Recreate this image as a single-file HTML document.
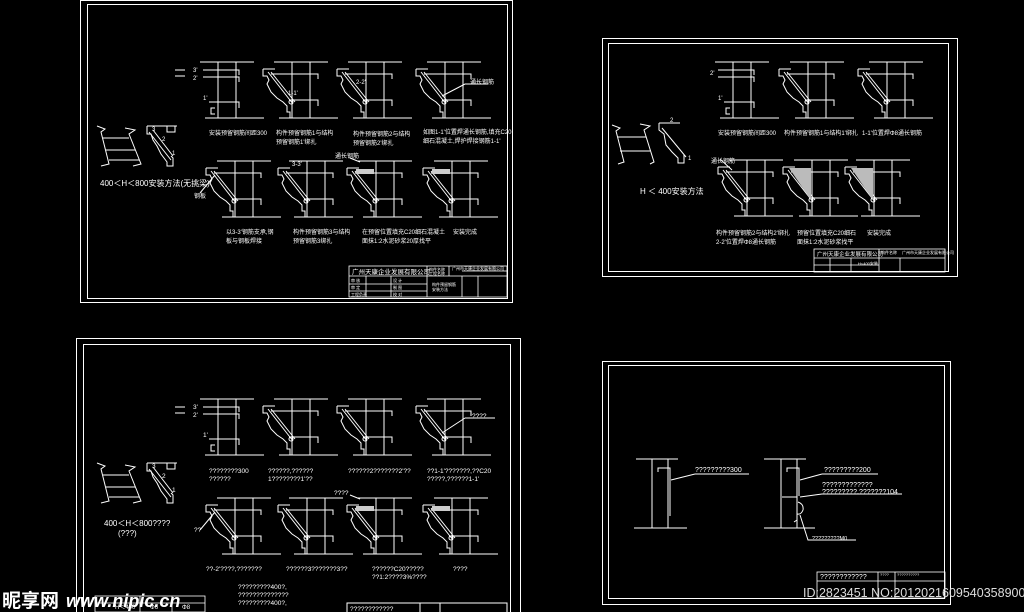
<!DOCTYPE html>
<html><head><meta charset="utf-8">
<style>
html,body{margin:0;padding:0;background:#000;}
svg{display:block;}
text{fill:#fff;font-family:"Liberation Sans","Noto Sans CJK SC",sans-serif;}
</style></head>
<body>
<svg width="1024" height="612" viewBox="0 0 1024 612" xmlns="http://www.w3.org/2000/svg">
<defs>
  <g id="frame0" stroke="#fff" stroke-width="1" fill="none">
    <line x1="11" y1="0" x2="65" y2="0"/>
    <line x1="29" y1="0" x2="29" y2="56"/>
    <line x1="47" y1="0" x2="47" y2="56"/>
    <line x1="16" y1="56" x2="75" y2="56"/>
  </g>
  <g id="mold" stroke="#fff" stroke-width="1" fill="none">
    <use href="#frame0"/>
    <polyline points="0,7 0,14 4,14 6,18 4,22 8,30 14,36 20,40 24,44 24,50 27,50 27,56 29,56"/>
    <polyline points="0,7 12,7"/>
    <line x1="5" y1="10" x2="30" y2="42"/>
    <line x1="8" y1="10" x2="32" y2="40"/>
    <polyline points="8,12 55,12 55,17"/>
    <polyline points="26,38 55,38 55,44"/>
    <circle cx="28" cy="40" r="2"/>
  </g>
  <g id="moldfill" stroke="#fff" stroke-width="1" fill="none">
    <use href="#mold"/>
    <rect x="9" y="8" width="18" height="5" fill="#ccc" stroke="none"/>
  </g>
  <g id="moldfill2" stroke="#fff" stroke-width="1" fill="none">
    <use href="#mold"/>
    <polygon points="6,8 28,8 28,40" fill="#bbb" stroke="none"/>
  </g>
  <g id="det1" stroke="#fff" stroke-width="1" fill="none">
    <use href="#frame0"/>
    <polyline points="14,8 50,8 50,13"/>
    <polyline points="14,15 50,15 50,20"/>
    <polyline points="20,40 50,40 50,46"/>
    <polyline points="26,46 22,46 22,52 26,52"/>
  </g>
  <g id="smallfig" stroke="#fff" stroke-width="1" fill="none">
    <polyline points="0,0 8,3 4,6 12,38 4,40"/>
    <polyline points="28,2 38,4 32,8 44,38 36,40"/>
    <line x1="6" y1="12" x2="32" y2="12"/>
    <line x1="9" y1="24" x2="38" y2="24"/>
    <line x1="12" y1="34" x2="42" y2="34"/>
    <polyline points="50,0 50,8 54,8 56,14 60,20 64,28 70,36 70,40 76,40 76,32 74,30"/>
    <line x1="50" y1="0" x2="80" y2="0"/>
    <line x1="52" y1="6" x2="74" y2="34"/>
    <line x1="56" y1="4" x2="76" y2="30"/>
    <rect x="70" y="0" width="8" height="6"/>
  </g>
</defs>

<!-- ============ SHEET 1 ============ -->
<g stroke="#fff" fill="none" stroke-width="1">
  <rect x="80.5" y="0.5" width="432" height="302"/>
  <rect x="87.5" y="4.5" width="420" height="294"/>
</g>
<use href="#det1" x="189" y="62"/>
<use href="#mold" x="263" y="62"/>
<use href="#mold" x="337" y="62"/>
<use href="#mold" x="416" y="62"/>
<use href="#mold" x="206" y="161"/>
<use href="#mold" x="278" y="161"/>
<use href="#moldfill" x="347" y="161"/>
<use href="#moldfill" x="423" y="161"/>
<use href="#smallfig" x="97" y="126"/>
<g stroke="#fff" fill="none">
  <line x1="175" y1="70" x2="185" y2="70"/><line x1="175" y1="76" x2="185" y2="76"/>
  <line x1="442" y1="96" x2="465" y2="84"/><line x1="465" y1="84" x2="488" y2="84"/>
  <line x1="200" y1="193" x2="215" y2="175"/>
  <line x1="360" y1="162" x2="350" y2="158"/>
</g>
<g font-size="6">
  <text x="193" y="72">3'</text><text x="193" y="80">2'</text><text x="203" y="100">1'</text>
  <text x="288" y="95">1-1'</text><text x="356" y="84">2-2'</text>
  <text x="470" y="84">通长钢筋</text>
  <text x="209" y="135">安装预留钢筋间距300</text>
  <text x="276" y="135">构件预留钢筋1与结构</text><text x="276" y="144">预留钢筋1'绑扎</text>
  <text x="353" y="136">构件预留钢筋2与结构</text><text x="353" y="145">预留钢筋2'绑扎</text>
  <text x="423" y="134">如图1-1'位置焊通长钢筋,填充C20</text><text x="423" y="143">细石混凝土,焊护焊接钢筋1-1'</text>
  <text x="292" y="166">3-3'</text><text x="335" y="158">通长钢筋</text>
  <text x="194" y="198">钢板</text>
  <text x="226" y="234">以3-3'钢筋支承,钢</text><text x="226" y="243">板与钢板焊接</text>
  <text x="293" y="234">构件预留钢筋3与结构</text><text x="293" y="243">预留钢筋3绑扎</text>
  <text x="362" y="234">在预留位置填充C20细石混凝土</text><text x="362" y="243">面抹1:2水泥砂浆20厚找平</text>
  <text x="453" y="234">安装完成</text>
  <text x="152" y="131">3</text><text x="162" y="141">2</text><text x="172" y="155">1</text>
</g>
<text x="100" y="186" font-size="8">400＜H＜800安装方法(无挑梁)</text>
<g stroke="#fff" fill="none" stroke-width="0.8">
  <rect x="349" y="266" width="158" height="31"/>
  <line x1="349" y1="276" x2="507" y2="276"/><line x1="349" y1="284" x2="427" y2="284"/><line x1="349" y1="291" x2="427" y2="291"/>
  <line x1="427" y1="266" x2="427" y2="297"/><line x1="449" y1="266" x2="449" y2="276"/>
  <line x1="462" y1="276" x2="462" y2="297"/><line x1="478" y1="276" x2="478" y2="297"/>
  <line x1="366" y1="276" x2="366" y2="297"/><line x1="391" y1="276" x2="391" y2="297"/>
  <line x1="462" y1="271" x2="507" y2="271"/>
</g>
<g font-size="6.5"><text x="352" y="274">广州天康企业发展有限公司</text></g>
<g font-size="4"><text x="429" y="271">构件名称</text><text x="429" y="275">工程名称</text><text x="452" y="270">广州市天康企业发展有限公司</text><text x="432" y="286">构件预留钢筋</text><text x="432" y="291">安装方法</text><text x="351" y="282">审 核</text><text x="351" y="289">审 定</text><text x="351" y="296">工程负责</text><text x="393" y="282">设 计</text><text x="393" y="289">制 图</text><text x="393" y="296">校 对</text></g>

<!-- ============ SHEET 2 ============ -->
<g stroke="#fff" fill="none" stroke-width="1">
  <rect x="602.5" y="38.5" width="355" height="238"/>
  <rect x="608.5" y="43.5" width="340" height="228"/>
</g>
<use href="#det1" x="704" y="62"/>
<use href="#mold" x="779" y="62"/>
<use href="#mold" x="858" y="62"/>
<use href="#mold" x="718" y="160"/>
<use href="#moldfill2" x="783" y="160"/>
<use href="#moldfill2" x="845" y="160"/>
<g stroke="#fff" fill="none" stroke-width="1">
  <polyline points="612,125 620,128 616,131 624,162 618,164"/>
  <polyline points="640,124 650,126 644,130 654,162 650,164"/>
  <line x1="618" y1="137" x2="646" y2="137"/><line x1="620" y1="151" x2="650" y2="151"/>
  <polyline points="659,123 659,130 664,134 666,145 672,152 678,158 678,163 684,163 684,155"/>
  <line x1="659" y1="123" x2="680" y2="123"/><line x1="662" y1="128" x2="686" y2="157"/>
  <line x1="720" y1="159" x2="732" y2="170"/>
</g>
<g font-size="6">
  <text x="710" y="75">2'</text><text x="718" y="100">1'</text>
  <text x="670" y="122">2</text><text x="688" y="160">1</text>
  <text x="711" y="163">通长钢筋</text>
  <text x="718" y="135">安装预留钢筋间距300</text>
  <text x="784" y="135">构件预留钢筋1与结构1'绑扎</text>
  <text x="862" y="135">1-1'位置焊Φ8通长钢筋</text>
  <text x="716" y="235">构件预留钢筋2与结构2'绑扎</text>
  <text x="716" y="244">2-2'位置焊Φ8通长钢筋</text>
  <text x="797" y="235">预留位置填充C20细石</text>
  <text x="797" y="244">面抹1:2水泥砂浆找平</text>
  <text x="867" y="235">安装完成</text>
</g>
<text x="640" y="194" font-size="8">H ＜ 400安装方法</text>
<g stroke="#fff" fill="none" stroke-width="0.8">
  <rect x="814" y="249" width="131" height="23"/>
  <line x1="814" y1="258" x2="945" y2="258"/><line x1="879" y1="249" x2="879" y2="272"/>
  <line x1="830" y1="258" x2="830" y2="272"/><line x1="851" y1="258" x2="851" y2="272"/>
  <line x1="900" y1="258" x2="900" y2="272"/><line x1="814" y1="265" x2="879" y2="265"/>
</g>
<g font-size="5.5"><text x="817" y="256">广州天康企业发展有限公司</text></g>
<g font-size="4"><text x="881" y="254">构件名称</text><text x="902" y="254">广州市天康企业发展有限公司</text><text x="858" y="265">H&lt;400安装</text></g>

<!-- ============ SHEET 3 ============ -->
<g stroke="#fff" fill="none" stroke-width="1">
  <rect x="76.5" y="338.5" width="444" height="280"/>
  <rect x="83.5" y="344.5" width="427" height="270"/>
</g>
<use href="#det1" x="189" y="399"/>
<use href="#mold" x="263" y="399"/>
<use href="#mold" x="337" y="399"/>
<use href="#mold" x="416" y="399"/>
<use href="#mold" x="206" y="498"/>
<use href="#mold" x="278" y="498"/>
<use href="#moldfill" x="347" y="498"/>
<use href="#moldfill" x="423" y="498"/>
<use href="#smallfig" x="97" y="463"/>
<g stroke="#fff" fill="none">
  <line x1="175" y1="407" x2="185" y2="407"/><line x1="175" y1="413" x2="185" y2="413"/>
  <line x1="442" y1="433" x2="465" y2="418"/><line x1="465" y1="418" x2="495" y2="418"/>
  <line x1="200" y1="530" x2="215" y2="512"/>
  <line x1="360" y1="499" x2="350" y2="495"/>
  <rect x="347" y="603" width="160" height="12"/>
  <line x1="420" y1="603" x2="420" y2="612"/><line x1="440" y1="603" x2="440" y2="612"/>
</g>
<g font-size="6.5">
  <text x="193" y="409">3'</text><text x="193" y="417">2'</text><text x="203" y="437">1'</text>
  <text x="472" y="418">????</text>
  <text x="209" y="473">????????300</text><text x="209" y="481">??????</text>
  <text x="268" y="473">??????,??????</text><text x="268" y="481">1????????1'??</text>
  <text x="348" y="473">??????2???????2'??</text>
  <text x="427" y="473">??1-1'???????,??C20</text><text x="427" y="481">?????,??????1-1'</text>
  <text x="334" y="495">????</text><text x="194" y="532">??</text>
  <text x="206" y="571">??-2'????,???????</text>
  <text x="286" y="571">??????3???????3??</text>
  <text x="372" y="571">??????C20?????</text><text x="372" y="579">??1:2????3%????</text>
  <text x="453" y="571">????</text>
  <text x="238" y="589">?????????400?,</text><text x="238" y="597">??????????????</text>
  <text x="238" y="605">?????????400?,</text>
  <text x="350" y="611">????????????</text>
  <text x="152" y="468">3</text><text x="162" y="478">2</text><text x="172" y="492">1</text>
</g>
<text x="104" y="526" font-size="8">400＜H＜800????</text>
<text x="118" y="536" font-size="8">(???)</text>
<g stroke="#fff" fill="none" stroke-width="0.8">
  <rect x="95" y="596" width="110" height="16"/><line x1="95" y1="603" x2="205" y2="603"/>
  <line x1="140" y1="596" x2="140" y2="612"/><line x1="172" y1="596" x2="172" y2="612"/>
</g>
<g font-size="6"><text x="115" y="609">H＜400</text><text x="150" y="609">Φ6</text><text x="182" y="609">Φ8</text></g>

<!-- ============ SHEET 4 ============ -->
<g stroke="#fff" fill="none" stroke-width="1">
  <rect x="602.5" y="361.5" width="348" height="243"/>
  <rect x="608.5" y="365.5" width="336" height="233"/>
  <line x1="636" y1="459" x2="678" y2="459"/><line x1="634" y1="528" x2="687" y2="528"/>
  <line x1="652" y1="459" x2="652" y2="528"/><line x1="668" y1="459" x2="668" y2="528"/>
  <polyline points="658,472 658,468 670,468 670,516"/>
  <line x1="671" y1="480" x2="695" y2="474"/><line x1="695" y1="474" x2="749" y2="474"/>
  <line x1="764" y1="459" x2="806" y2="459"/><line x1="764" y1="528" x2="815" y2="528"/>
  <line x1="781" y1="459" x2="781" y2="528"/><line x1="797" y1="459" x2="797" y2="528"/>
  <polyline points="787,472 787,468 799,468 799,496"/>
  <line x1="782" y1="497" x2="797" y2="497"/>
  <line x1="800" y1="480" x2="822" y2="474"/><line x1="822" y1="474" x2="878" y2="474"/>
  <line x1="800" y1="497" x2="822" y2="494"/><line x1="822" y1="494" x2="902" y2="494"/>
  <path d="M798,502 q6,2 5,8 q-2,5 -6,4 l0,6 l-3,2"/>
  <polyline points="800,515 808,540 856,540"/>
  <rect x="817" y="572" width="128" height="26" stroke-width="0.8"/>
  <line x1="817" y1="581" x2="945" y2="581" stroke-width="0.8"/>
  <line x1="878" y1="572" x2="878" y2="598" stroke-width="0.8"/>
  <line x1="895" y1="572" x2="895" y2="598" stroke-width="0.8"/>
</g>
<g font-size="7">
  <text x="695" y="472">?????????300</text>
  <text x="824" y="472">?????????200</text>
  <text x="822" y="487">?????????????</text>
  <text x="822" y="494">?????????.???????104</text>
  <text x="812" y="540" font-size="5.5">?????????M0</text>
  <text x="820" y="579">????????????</text>
</g>
<g font-size="4"><text x="880" y="576">????</text><text x="897" y="576">??????????</text></g>

<!-- watermarks -->
<text x="803" y="597" font-size="12.5" style="fill:#ddd">ID:2823451 NO:20120216095403589000</text>
<text x="2" y="607" font-size="19" font-weight="bold">昵享网</text>
<text x="66" y="607" font-size="18" font-weight="bold" font-style="italic">www.nipic.cn</text>
</svg>
</body></html>
